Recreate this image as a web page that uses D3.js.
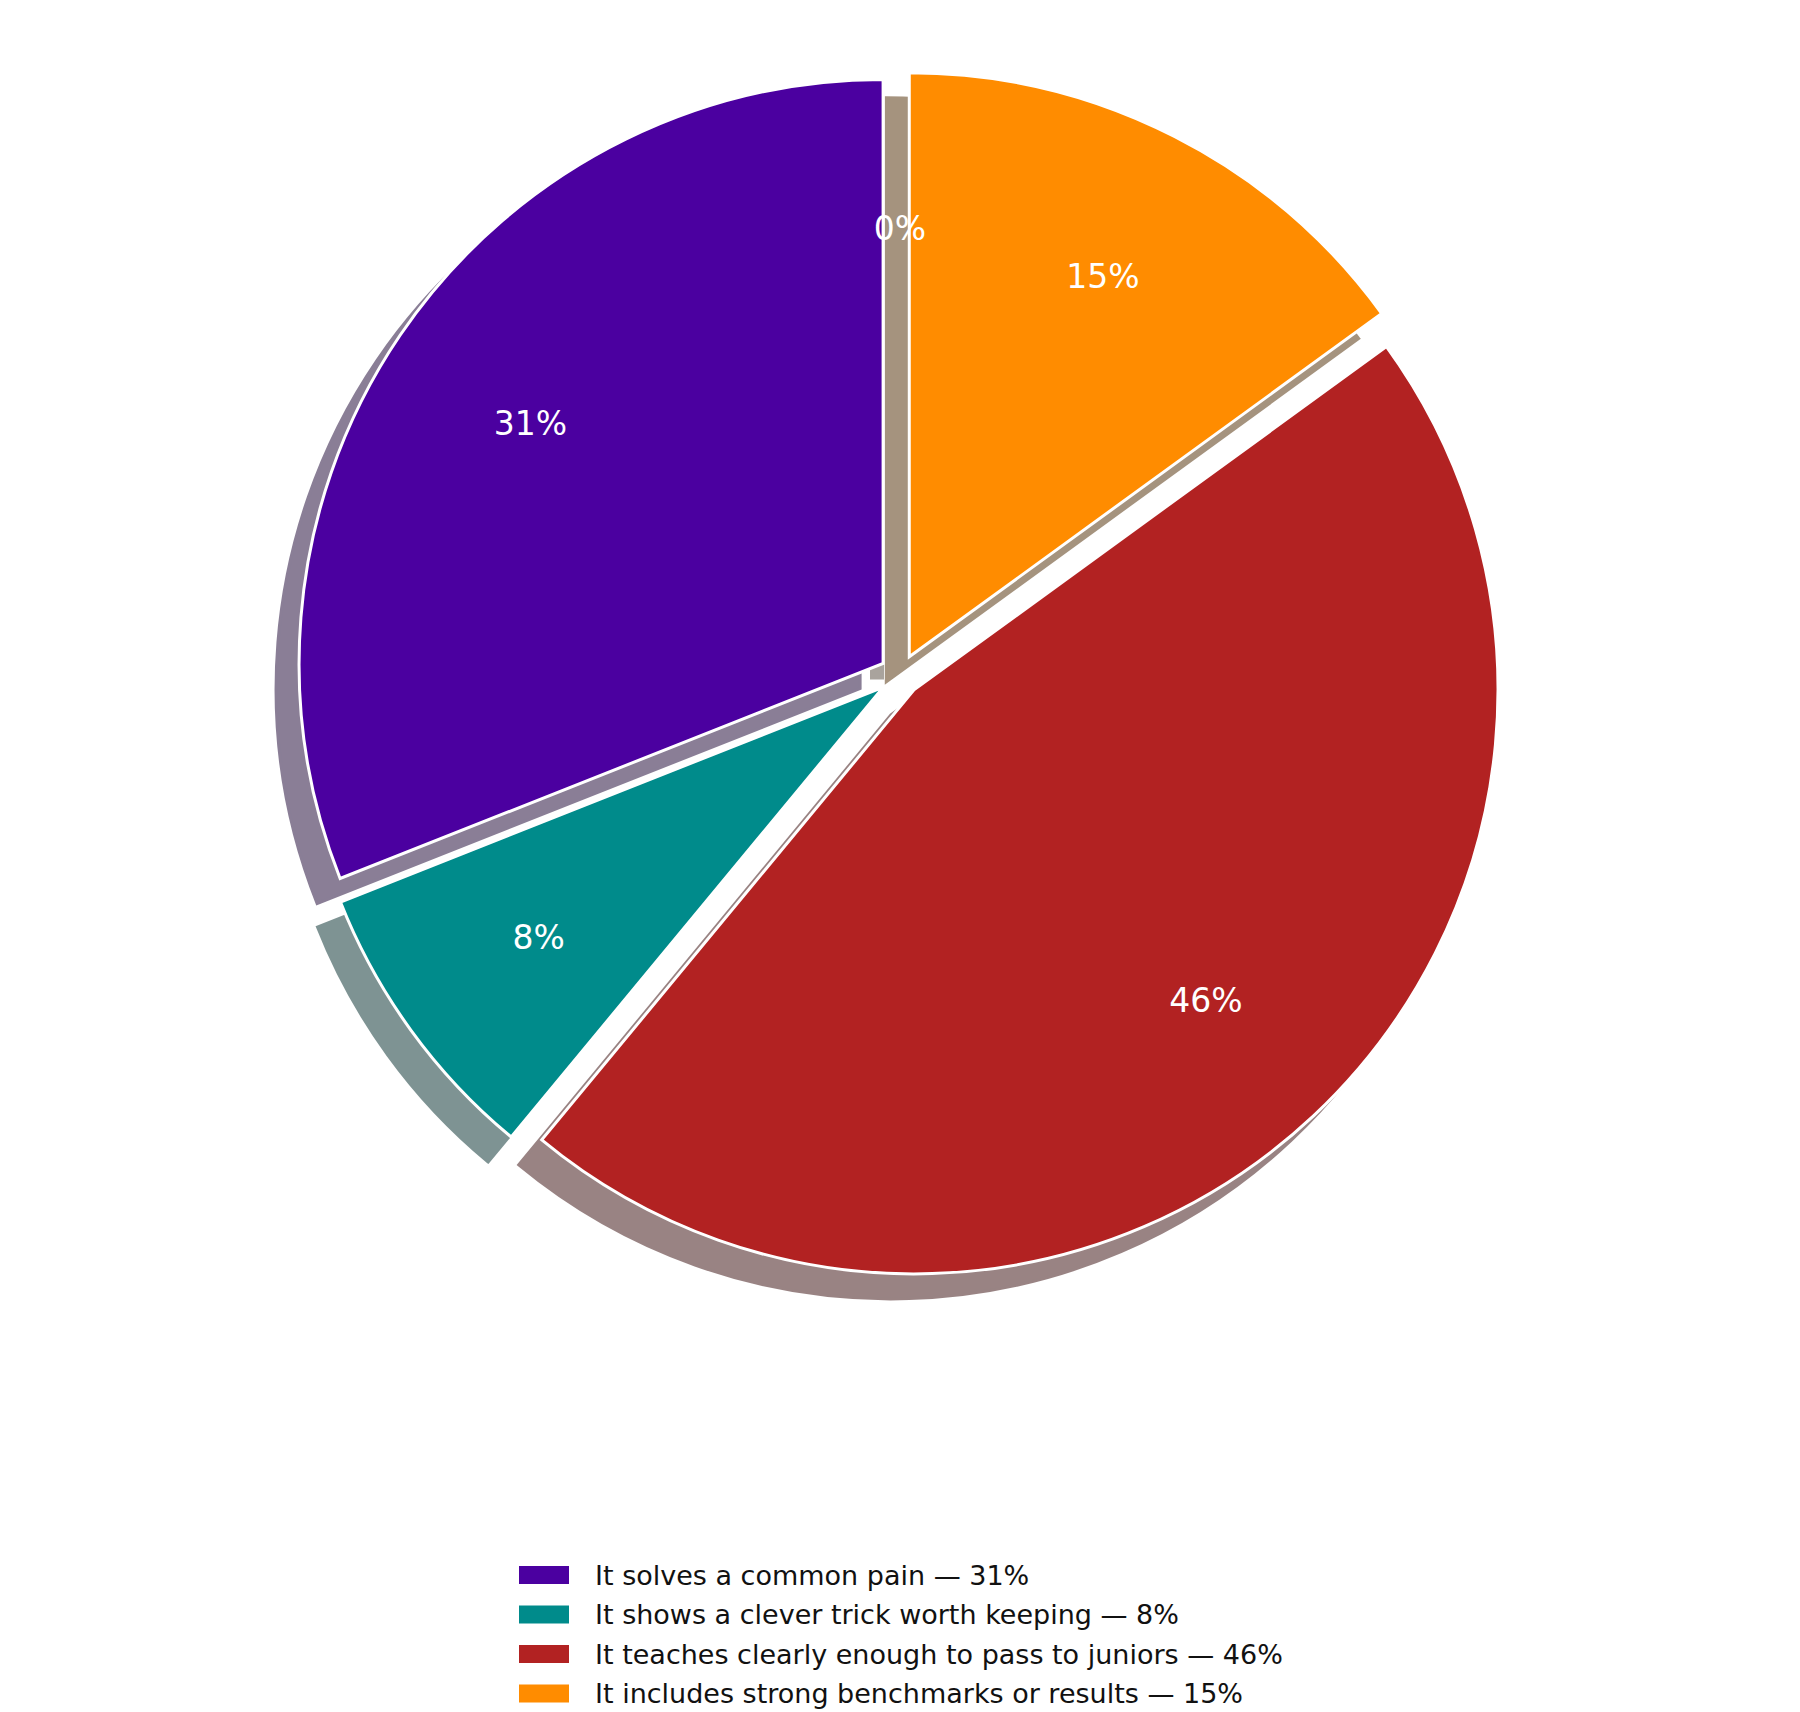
<!DOCTYPE html>
<html><head><meta charset="utf-8">
<script src="https://cdn.jsdelivr.net/npm/d3@7"></script>
<style>body{margin:0;background:#fff}</style>
</head><body>
<div class="pie-chart"></div>
<script>
const labels = ['It solves a common pain', 'It shows a clever trick worth keeping', 'It teaches clearly enough to pass to juniors', 'It includes strong benchmarks or results', '']
const values = [31, 8, 46, 15, 0]
const colors = ['#4B00A0', '#008B8B', '#B22222', '#FF8C00', '#8B5A2B']
const pctText = ['31%', '8%', '46%', '15%', '0%']

const width = 1800
const height = 1712
const cx = 900, cy = 675
const radius = 584
const explode = 0.035 * radius

const svg = d3.select('.pie-chart')
    .append('svg')
    .attr('width', width)
    .attr('height', height)
    .style('font-family', 'DejaVu Sans, sans-serif')

// counterclockwise from 12 o'clock, like the original
const pie = d3.pie().sort(null).value(d => d).startAngle(0).endAngle(-2 * Math.PI)
const arcs = pie(values)
const arc = d3.arc().innerRadius(0).outerRadius(radius)

const shift = d => {
    const a = (d.startAngle + d.endAngle) / 2
    return [Math.sin(a) * explode, -Math.cos(a) * explode]
}
const shadowColor = c => {
    const r = d3.rgb(c)
    return d3.rgb(r.r * 0.3, r.g * 0.3, r.b * 0.3)
}

const g = svg.append('g').attr('transform', `translate(${cx},${cy})`)

// shadows
g.selectAll('path.shadow')
    .data(arcs)
    .join('path')
    .attr('class', 'shadow')
    .attr('transform', d => { const [x, y] = shift(d); return `translate(${x - 23},${y + 25})` })
    .attr('d', arc)
    .attr('fill', (d, i) => shadowColor(colors[i]))
    .attr('stroke', (d, i) => shadowColor(colors[i]))
    .attr('stroke-width', (d, i) => values[i] === 0 ? 14 : 3)
    .attr('opacity', (d, i) => values[i] === 0 ? 0.4 : 0.5)

// wedges
g.selectAll('path.wedge')
    .data(arcs.filter(d => d.value > 0))
    .join('path')
    .attr('class', 'wedge')
    .attr('transform', d => { const [x, y] = shift(d); return `translate(${x},${y})` })
    .attr('d', arc)
    .attr('fill', d => colors[d.index])
    .attr('stroke', '#fff')
    .attr('stroke-width', 3)

// percent labels
g.selectAll('text.pct')
    .data(arcs)
    .join('text')
    .attr('class', 'pct')
    .attr('transform', d => {
        const a = (d.startAngle + d.endAngle) / 2
        const [x, y] = shift(d)
        const r = radius * 0.73
        return `translate(${x + Math.sin(a) * r},${y - Math.cos(a) * r})`
    })
    .attr('text-anchor', 'middle')
    .attr('dominant-baseline', 'central')
    .attr('fill', '#fff')
    .attr('font-size', 33)
    .text(d => pctText[d.index])

// legend
const legend = svg.append('g').attr('transform', 'translate(519,1575)')
const items = legend.selectAll('g')
    .data(labels.slice(0, 4))
    .join('g')
    .attr('transform', (d, i) => `translate(0,${i * 39.5})`)
items.append('rect')
    .attr('x', 0).attr('y', -9)
    .attr('width', 50).attr('height', 18)
    .attr('fill', (d, i) => colors[i])
items.append('text')
    .attr('x', 76)
    .attr('dominant-baseline', 'central')
    .attr('font-size', 27)
    .attr('fill', '#111')
    .text((d, i) => `${d} — ${pctText[i]}`)
</script>
</body></html>
